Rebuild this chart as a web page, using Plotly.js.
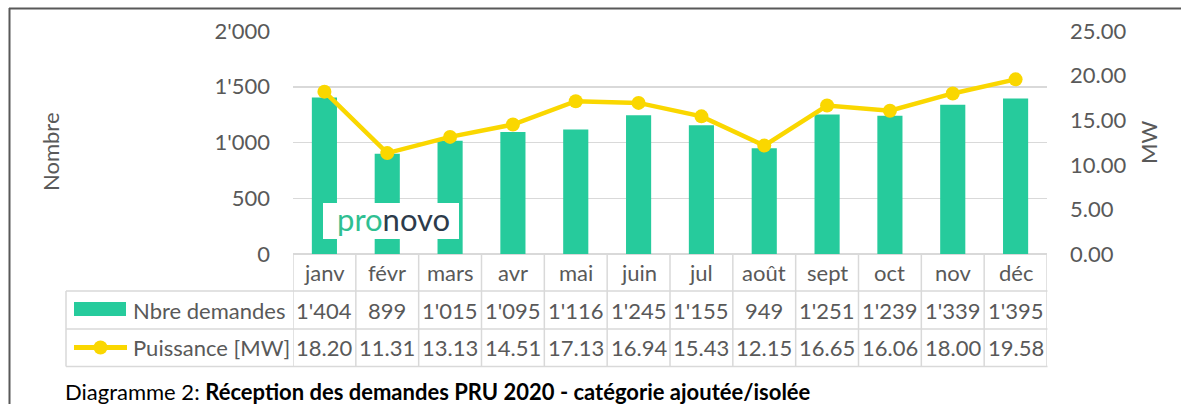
<!DOCTYPE html>
<html>
<head>
<meta charset="utf-8">
<script src="https://cdn.plot.ly/plotly-3.0.1.min.js"></script>
<style>
  html, body { margin: 0; padding: 0; background: #fff; }
  #chart { width: 1181px; height: 404px; }
</style>
</head>
<body>
<div id="chart"></div>
<script>
// ---- data ----
const months = ['janv','févr','mars','avr','mai','juin','jul','août','sept','oct','nov','déc'];
const demandes = [1404, 899, 1015, 1095, 1116, 1245, 1155, 949, 1251, 1239, 1339, 1395];
const puissance = [18.20, 11.31, 13.13, 14.51, 17.13, 16.94, 15.43, 12.15, 16.65, 16.06, 18.00, 19.58];
const seriesNames = ['Nbre demandes', 'Puissance [MW]'];
const leftTicks = [0, 500, 1000, 1500, 2000];
const rightTicks = [0, 5, 10, 15, 20, 25];
const captionPrefix = 'Diagramme 2: ';
const captionBold = 'Réception des demandes PRU 2020 - catégorie ajoutée/isolée';

// ---- styling / layout helpers ----
const W = 1181, H = 404;
const L = 293, R = 1047, T = 31, B = 254;
const px = x => (x - L) / (R - L);
const py = y => (B - y) / (B - T);
const FONT = 'Lato, "Open Sans", sans-serif';
const TXT = '#595959';
const GRID = '#d9d9d9';
const BAR = '#26CB9C';
const LINE = '#FAD700';
const FS = 22;

const fmtInt = n => String(n).replace(/\B(?=(\d{3})+(?!\d))/g, "'");

const traces = [
  {
    type: 'bar', name: seriesNames[0], x: months, y: demandes,
    marker: { color: BAR }, yaxis: 'y', hoverinfo: 'x+y'
  },
  {
    type: 'scatter', mode: 'lines+markers', name: seriesNames[1], x: months, y: puissance,
    line: { color: LINE, width: 4.5 }, marker: { color: LINE, size: 14 },
    yaxis: 'y2', hoverinfo: 'x+y'
  }
];

const shapes = [];
const annotations = [];

// frame
shapes.push({ type: 'line', xref: 'paper', yref: 'paper', x0: px(9), x1: px(W + 5), y0: py(8.5), y1: py(8.5), line: { color: '#595959', width: 2 } });
shapes.push({ type: 'line', xref: 'paper', yref: 'paper', x0: px(9.5), x1: px(9.5), y0: py(8), y1: py(H + 5), line: { color: '#595959', width: 2 } });

// table horizontal lines
[291, 329, 366.5].forEach(y => {
  shapes.push({ type: 'line', xref: 'paper', yref: 'paper', x0: px(66), x1: px(1047.5), y0: py(y), y1: py(y), line: { color: GRID, width: 1.5 } });
});
shapes.push({ type: 'line', xref: 'paper', yref: 'paper', x0: px(66), x1: px(66), y0: py(291), y1: py(366.5), line: { color: GRID, width: 1.5 } });
// table vertical lines following the category axis
for (let i = 0; i <= months.length; i++) {
  shapes.push({ type: 'line', xref: 'x', yref: 'paper', x0: i - 0.5, x1: i - 0.5, y0: 0, y1: py(366.5), line: { color: GRID, width: 1.5 } });
}

// legend swatches in the table
shapes.push({ type: 'rect', xref: 'paper', yref: 'paper', x0: px(74), x1: px(126), y0: py(302), y1: py(316), fillcolor: BAR, line: { width: 0 } });
shapes.push({ type: 'line', xref: 'paper', yref: 'paper', x0: px(74), x1: px(127), y0: py(347.5), y1: py(347.5), line: { color: LINE, width: 5 } });
shapes.push({ type: 'circle', xref: 'paper', yref: 'paper', x0: px(93.5), x1: px(107.5), y0: py(340.5), y1: py(354.5), fillcolor: LINE, line: { width: 0 } });

// logo box
shapes.push({ type: 'rect', xref: 'paper', yref: 'paper', x0: px(323), x1: px(459), y0: py(203), y1: py(239), fillcolor: '#ffffff', line: { width: 0 }, layer: 'above' });
annotations.push({
  xref: 'paper', yref: 'paper', x: px(393), y: py(219), xanchor: 'center', yanchor: 'middle', showarrow: false,
  text: '<span style="color:#2fbf92">pro</span><span style="color:#2d3b4b">novo</span>',
  font: { family: 'Lato, sans-serif', size: 31 }
});

// table text
const rowY = [272, 310, 347.5];
months.forEach((m, i) => {
  annotations.push({ xref: 'x', yref: 'paper', x: m, y: py(rowY[0]), text: m, showarrow: false, xanchor: 'center', yanchor: 'middle', font: { family: FONT, size: FS, color: TXT } });
  annotations.push({ xref: 'x', yref: 'paper', x: m, y: py(rowY[1]), text: fmtInt(demandes[i]), showarrow: false, xanchor: 'center', yanchor: 'middle', font: { family: FONT, size: FS, color: TXT } });
  annotations.push({ xref: 'x', yref: 'paper', x: m, y: py(rowY[2]), text: puissance[i].toFixed(2), showarrow: false, xanchor: 'center', yanchor: 'middle', font: { family: FONT, size: FS, color: TXT } });
});
annotations.push({ xref: 'paper', yref: 'paper', x: px(131), y: py(rowY[1]), text: seriesNames[0], showarrow: false, xanchor: 'left', yanchor: 'middle', font: { family: FONT, size: FS, color: TXT } });
annotations.push({ xref: 'paper', yref: 'paper', x: px(131), y: py(rowY[2]), text: seriesNames[1], showarrow: false, xanchor: 'left', yanchor: 'middle', font: { family: FONT, size: FS, color: TXT } });

// axis titles
annotations.push({ xref: 'paper', yref: 'paper', x: px(50), y: py(152), text: 'Nombre', textangle: -90, showarrow: false, xanchor: 'center', yanchor: 'middle', font: { family: FONT, size: FS, color: TXT } });
annotations.push({ xref: 'paper', yref: 'paper', x: px(1148), y: py(143), text: 'MW', textangle: -90, showarrow: false, xanchor: 'center', yanchor: 'middle', font: { family: FONT, size: FS, color: TXT } });

// caption
annotations.push({ xref: 'paper', yref: 'paper', x: px(63), y: py(391), text: captionPrefix + '<b>' + captionBold + '</b>', showarrow: false, xanchor: 'left', yanchor: 'middle', font: { family: FONT, size: 22, color: '#000000' } });

const layout = {
  width: W, height: H,
  margin: { l: L, r: W - R, t: T, b: H - B, pad: 0 },
  paper_bgcolor: '#ffffff', plot_bgcolor: '#ffffff',
  showlegend: false,
  separators: ".'",
  bargap: 0.6,
  font: { family: FONT, size: FS, color: TXT },
  xaxis: { type: 'category', range: [-0.5, 11.5], showticklabels: false, showgrid: false, zeroline: false, showline: false, ticks: '', fixedrange: true },
  yaxis: {
    range: [0, 2000], tickvals: leftTicks, tickformat: ",d", showgrid: true, gridcolor: GRID, gridwidth: 1.5,
    zeroline: true, zerolinecolor: GRID, zerolinewidth: 1.5, showline: false, ticks: '', ticklabelstandoff: 22,
    tickfont: { family: FONT, size: FS, color: TXT }, fixedrange: true
  },
  yaxis2: {
    overlaying: 'y', side: 'right', range: [0, 25], tickvals: rightTicks, tickformat: ".2f", showgrid: false,
    zeroline: false, showline: false, ticks: '', ticklabelstandoff: 22,
    tickfont: { family: FONT, size: FS, color: TXT }, fixedrange: true
  },
  shapes: shapes,
  annotations: annotations
};

Plotly.newPlot('chart', traces, layout, { staticPlot: true, displayModeBar: false });
</script>
</body>
</html>
